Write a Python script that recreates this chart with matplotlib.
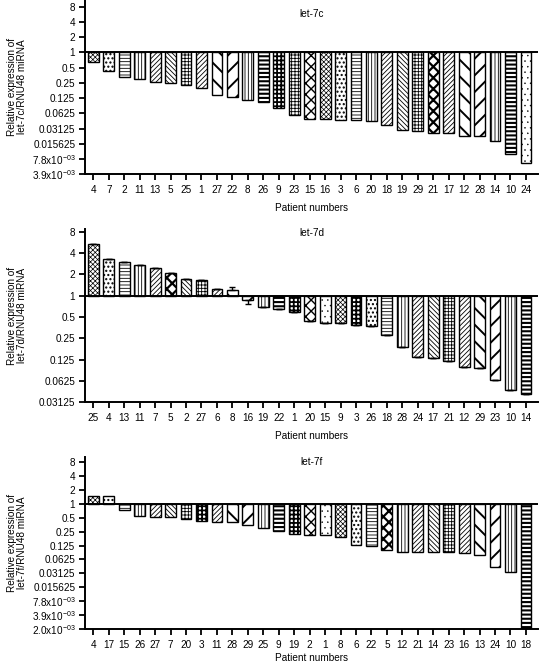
import numpy as np
import matplotlib
matplotlib.use('Agg')
import matplotlib.pyplot as plt
from matplotlib.ticker import FixedLocator, FixedFormatter, NullLocator

plt.rcParams['font.family'] = ['Liberation Sans', 'DejaVu Sans']
plt.rcParams['mathtext.fontset'] = 'custom'
plt.rcParams['mathtext.rm'] = 'Liberation Sans'
plt.rcParams['mathtext.it'] = 'Liberation Sans'
plt.rcParams['hatch.linewidth'] = 0.6

# let-7c
patients_7c = ['4', '7', '2', '11', '13', '5', '25', '1', '27', '22', '8', '26', '9', '23', '15',
               '16', '3', '6', '20', '18', '19', '29', '21', '17', '12', '28', '14', '10', '24']
values_7c = [0.64, 0.42, 0.32, 0.30, 0.26, 0.25, 0.225, 0.196, 0.145, 0.132, 0.117, 0.105, 0.078,
             0.058, 0.049, 0.048, 0.046, 0.046, 0.045, 0.036, 0.029, 0.028, 0.026, 0.025, 0.022,
             0.022, 0.0177, 0.0098, 0.0066]

# let-7d
patients_7d = ['25', '4', '13', '11', '7', '5', '2', '27', '6', '8', '16', '19', '22', '1', '20',
               '15', '9', '3', '26', '18', '28', '24', '17', '21', '12', '29', '23', '10', '14']
values_7d = [5.35, 3.26, 3.03, 2.72, 2.44, 2.10, 1.73, 1.67, 1.24, 1.20, 0.87, 0.70, 0.65, 0.58,
             0.44, 0.41, 0.41, 0.39, 0.37, 0.28, 0.19, 0.137, 0.133, 0.118, 0.098, 0.095, 0.065,
             0.047, 0.041]
err_up_7d = [0] * 9 + [0.12] + [0] * 19
err_dn_7d = [0] * 10 + [0.1] + [0] * 18

# let-7f
patients_7f = ['4', '17', '15', '26', '27', '7', '20', '3', '11', '28', '29', '25', '9', '19', '2',
               '1', '8', '6', '22', '5', '12', '21', '14', '23', '16', '13', '24', '10', '18']
values_7f = [1.46, 1.44, 0.74, 0.54, 0.51, 0.51, 0.47, 0.42, 0.41, 0.40, 0.35, 0.30, 0.26, 0.22,
             0.21, 0.21, 0.19, 0.128, 0.122, 0.10, 0.09, 0.09, 0.09, 0.09, 0.085, 0.077, 0.043,
             0.034, 0.0021]

ytick_vals = [8, 4, 2, 1, 0.5, 0.25, 0.125, 0.0625, 0.03125, 0.015625, 2 ** -7, 2 ** -8, 2 ** -9]
ytick_text = ['8', '4', '2', '1', '0.5', '0.25', '0.125', '0.0625', '0.03125', '0.015625',
              r'7.8x10$^{-03}$', r'3.9x10$^{-03}$', r'2.0x10$^{-03}$']

# hatch styles: (pattern, hatch linewidth)
H = {
    'fc': ('xxxxxxx', 0.5),
    'bc': ('....', 1.0),
    '-': ('-----', 0.6),
    '|': ('|||||', 0.6),
    'f/': ('///////', 0.6),
    'f\\': ('\\\\\\\\\\\\\\', 0.6),
    '+': ('+++++', 0.6),
    'w/': ('//', 1.4),
    'w\\': ('\\\\', 1.4),
    'B-': ('----', 1.5),
    'B+': ('++++', 1.3),
    'X': ('xxx', 1.0),
    'BX': ('xxx', 1.6),
    '.': ('...', 0.3),
}
hatch_7c = ['fc', 'bc', '-', '|', 'f/', 'f\\', '+', 'f/', 'w\\', 'w/', '|', 'B-', 'B+', '+', 'X',
            'fc', 'bc', '-', '|', 'f/', 'f\\', '+', 'BX', 'f/', 'w\\', 'w/', '|', 'B-', '.']
hatch_7d = ['fc', 'bc', '-', '|', 'f/', 'BX', 'f\\', '+', 'f/', 'w\\', 'w/', '|', 'B-', 'B+', 'X',
            '.', 'fc', 'B+', 'bc', '-', '|', 'f/', 'f\\', '+', 'f/', 'w\\', 'w/', '|', 'B-']
hatch_7f = ['fc', 'bc', '-', '|', 'f/', 'f\\', '+', 'B+', 'f/', 'w\\', 'w/', '|', 'B-', 'B+', 'X',
            '.', 'fc', 'bc', '-', 'BX', '|', 'f/', 'f\\', '+', 'f/', 'w\\', 'w/', '|', 'B-']

fig = plt.figure(figsize=(5.4, 6.63), dpi=100)
W, Hh = 540, 663


def make_panel(rect_px, patients, values, hatches, ylo, yhi, name, title_y, err=None, lpad=6):
    x0, ytop, x1, ybot = rect_px
    ax = fig.add_axes([x0 / W, 1 - ybot / Hh, (x1 - x0) / W, (ybot - ytop) / Hh])
    ax.set_yscale('log', base=2)
    x = np.arange(len(values))
    for i, (v, h) in enumerate(zip(values, hatches)):
        pat, hlw = H[h]
        with plt.rc_context({'hatch.linewidth': hlw}):
            ax.bar(x[i], v - 1, bottom=1, width=0.7, facecolor='white', edgecolor='black',
                   linewidth=1.0, hatch=pat, zorder=2)
    if err is not None:
        ax.errorbar(x, values, yerr=[err[1], err[0]], fmt='none', ecolor='black',
                    elinewidth=1.0, capsize=2.5, capthick=1.0, zorder=3)
    ax.axhline(1, color='black', linewidth=1.4, zorder=4)
    ax.set_xlim(-0.54, len(values) - 1 + 0.78)
    ax.set_ylim(ylo, yhi)
    ticks = [t for t in ytick_vals if ylo * 0.99 <= t <= yhi]
    labels = [ytick_text[ytick_vals.index(t)] for t in ticks]
    ax.yaxis.set_major_locator(FixedLocator(ticks))
    ax.yaxis.set_major_formatter(FixedFormatter(labels))
    ax.yaxis.set_minor_locator(NullLocator())
    ax.set_xticks(x)
    ax.set_xticklabels(patients)
    ax.tick_params(axis='both', direction='out', length=4.5, width=1.3, labelsize=7.2, pad=2.5)
    ax.tick_params(axis='x', pad=3)
    for s in ['top', 'right']:
        ax.spines[s].set_visible(False)
    for s in ['left', 'bottom']:
        ax.spines[s].set_linewidth(1.4)
    ax.set_xlabel('Patient numbers', fontsize=7.2, labelpad=lpad)
    ax.text(0.5, title_y, name, transform=ax.transAxes, ha='center', va='center', fontsize=7.2)
    yc = (ytop + ybot) / 2
    fig.text(17 / W, 1 - yc / Hh, 'Relative expression of\n' + name + '/RNU48 miRNA',
             rotation=90, ha='center', va='center', fontsize=7.2, linespacing=1.1)
    return ax


make_panel((85, 0, 538, 174.3), patients_7c, values_7c, hatch_7c, 2 ** -8, 2 ** 3.44,
           'let-7c', 0.92)
make_panel((85, 229.3, 538, 402.2), patients_7d, values_7d, hatch_7d, 2 ** -5, 2 ** 3.11,
           'let-7d', 0.979, err=(err_up_7d, err_dn_7d))
make_panel((85, 456.7, 538, 629.3), patients_7f, values_7f, hatch_7f, 2 ** -9, 2 ** 3.36,
           'let-7f', 0.969, lpad=2.5)

fig.savefig('out.png', dpi=100)
